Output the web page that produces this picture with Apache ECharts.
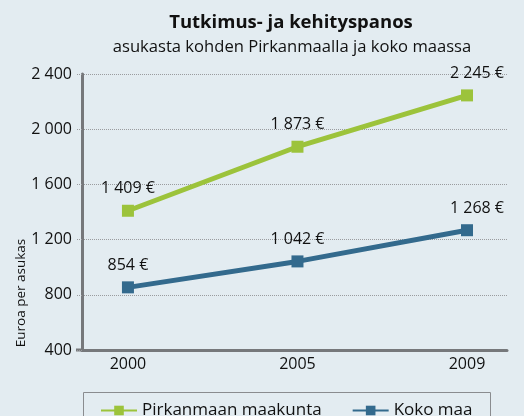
<!DOCTYPE html>
<html>
<head>
<meta charset="utf-8">
<script src="https://cdn.jsdelivr.net/npm/echarts@6/dist/echarts.min.js"></script>
<style>
  html, body { margin: 0; padding: 0; background: #e3ecf1; }
  #chart { width: 524px; height: 416px; }
</style>
</head>
<body>
<div id="chart"></div>
<script>
// R&D expenditure per inhabitant (euros)
const years = ['2000', '2005', '2009'];
const pirkanmaa = [1409, 1873, 2245];
const kokoMaa = [854, 1042, 1268];
const yTicks = [400, 800, 1200, 1600, 2000, 2400];

const FONT = 'Open Sans';
const GREEN = '#9cc33b';
const BLUE = '#336a8d';
const AXIS = '#76787b';

function fmt(v) {
  return String(v).replace(/\B(?=(\d{3})+(?!\d))/g, ' ');
}

function points(values) {
  return values.map((v, i) => ({
    value: [i, v],
    label: i === values.length - 1 ? { offset: [10, 0] } : {}
  }));
}

function lineSeries(name, values, color) {
  return {
    name: name,
    type: 'line',
    data: points(values),
    symbol: 'rect',
    symbolSize: 12,
    lineStyle: { color: color, width: 5 },
    itemStyle: { color: color },
    label: {
      show: true,
      position: 'top',
      distance: 8,
      color: '#111',
      fontFamily: FONT,
      fontSize: 16,
      formatter: p => fmt(p.value[1]) + ' €'
    },
    z: 5
  };
}

const chart = echarts.init(document.getElementById('chart'));
chart.setOption({
  backgroundColor: '#e3ecf1',
  animation: false,
  title: [
    {
      text: 'Tutkimus- ja kehityspanos',
      left: 286, top: 8, textAlign: 'center',
      textStyle: { fontFamily: FONT, fontSize: 18.5, fontWeight: 'bold', color: '#111' }
    },
    {
      text: 'asukasta kohden Pirkanmaalla ja koko maassa',
      left: 287, top: 34, textAlign: 'center',
      textStyle: { fontFamily: FONT, fontSize: 16.6, fontWeight: 'normal', color: '#111' }
    }
  ],
  grid: { left: 82, right: 17, top: 74, bottom: 66 },
  xAxis: {
    type: 'value',
    min: -0.271,
    max: 2.236,
    axisLine: { show: true, onZero: false, lineStyle: { color: AXIS, width: 3 } },
    axisTick: { show: false },
    splitLine: { show: false },
    axisLabel: {
      customValues: [0, 1, 2],
      formatter: v => years[Math.round(v)],
      color: '#111', fontFamily: FONT, fontSize: 16, margin: 6
    }
  },
  yAxis: {
    type: 'value',
    min: yTicks[0],
    max: yTicks[yTicks.length - 1],
    interval: 400,
    axisLine: { show: true, onZero: false, lineStyle: { color: AXIS, width: 3 } },
    axisTick: { show: true, length: 5, lineStyle: { color: '#9a9c9f', type: 'dotted' } },
    splitLine: { show: true, lineStyle: { color: '#9a9c9f', type: 'dotted', width: 1 } },
    axisLabel: {
      formatter: v => fmt(v),
      color: '#111', fontFamily: FONT, fontSize: 16, margin: 10
    }
  },
  legend: {
    left: 95, top: 397,
    itemWidth: 36, itemHeight: 12,
    itemGap: 30,
    textStyle: { fontFamily: FONT, fontSize: 17, color: '#111' },
    data: ['Pirkanmaan maakunta', 'Koko maa']
  },
  graphic: [
    {
      type: 'rect',
      shape: { x: 83.5, y: 392.5, width: 407, height: 40 },
      style: { fill: 'none', stroke: '#8a8c8f', lineWidth: 1 },
      silent: true
    },
    {
      type: 'rect',
      shape: { x: 76, y: 348.5, width: 7, height: 3 },
      style: { fill: AXIS },
      silent: true
    },
    {
      type: 'text',
      x: 21, y: 293,
      rotation: Math.PI / 2,
      style: {
        text: 'Euroa per asukas',
        fontFamily: FONT, fontSize: 13.5, fill: '#111',
        align: 'center', verticalAlign: 'middle'
      }
    }
  ],
  series: [
    lineSeries('Pirkanmaan maakunta', pirkanmaa, GREEN),
    lineSeries('Koko maa', kokoMaa, BLUE)
  ]
});
</script>
</body>
</html>
